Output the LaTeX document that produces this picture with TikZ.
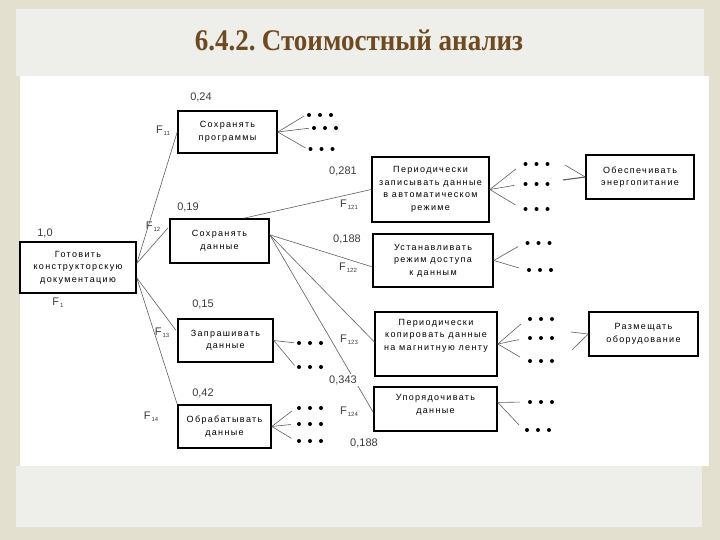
\documentclass[tikz,border=0pt]{standalone}
\usepackage{fontspec}
\setmainfont{Liberation Sans}
\newfontfamily\titlefont{Liberation Serif}
\newfontfamily\boxfont{Liberation Sans}[LetterSpace=15]
\usetikzlibrary{positioning}
\definecolor{slidebeige}{RGB}{228,224,208}
\definecolor{slidegray}{RGB}{238,238,234}
\definecolor{titlebrown}{RGB}{110,74,32}
\definecolor{wiregray}{RGB}{95,95,95}
\definecolor{labelgray}{RGB}{60,60,60}
\newcommand{\Fsub}[1]{F\raisebox{-2pt}{\fontsize{6}{6}\selectfont\,#1}}

\begin{document}
\begin{tikzpicture}[
        x=1pt, y=-1pt,
        func/.style={rectangle, draw=black, line width=1.6pt, fill=white, align=center,
                     font=\boxfont\fontsize{9}{12.5}\selectfont, inner sep=1pt},
        weight/.style={font=\fontsize{11}{11}\selectfont, text=labelgray, inner sep=1pt},
        fname/.style={font=\fontsize{11}{11}\selectfont, text=labelgray, inner sep=1pt},
        dotrow/.style={minimum width=28pt, minimum height=4.4pt, inner sep=0pt,
                       path picture={\foreach \k in {-1,0,1}
                           \fill (path picture bounding box.center) ++(\k*11pt,0pt) circle (2pt);}},
        wire/.style={draw=wiregray, line width=0.6pt},
    ]
    \useasboundingbox (0,0) rectangle (720,540);

    % ---- Slide background ----
    \fill[slidebeige] (0,0) rectangle (720,540);
    \fill[slidegray] (16,9) rectangle (704,76);
    \fill[white] (20,76) rectangle (709,466);
    \fill[slidegray] (16,466) rectangle (702,527);
    \node[font=\titlefont\bfseries\fontsize{30}{30}\selectfont, text=titlebrown, xscale=0.9] (TITLE)
        at (359,40) {6.4.2.\hspace{-3pt} Стоимостный анализ};

    % ---- Root function ----
    \node[func, minimum width=116pt, minimum height=51pt] (R) at (78,267.5)
        {Готовить\\конструкторскую\\документацию};

    % ---- First level ----
    \node[func, minimum width=99pt, minimum height=42pt] (A1) at (227.5,132) {Сохранять\\программы};
    \node[func, minimum width=99pt, minimum height=44pt] (A2) at (219.5,241) {Сохранять\\данные};
    \node[func, minimum width=95pt, minimum height=43pt] (A3) at (225.5,340.5) {Запрашивать\\данные};
    \node[func, minimum width=93pt, minimum height=43pt] (A4) at (224.5,426.5) {Обрабатывать\\данные};

    % ---- Second level ----
    \node[func, minimum width=117pt, minimum height=65pt] (B1) at (430.5,189.5)
        {Периодически\\записывать данные\\в автоматическом\\режиме};
    \node[func, minimum width=120pt, minimum height=53pt] (B2) at (433,260.5)
        {Устанавливать\\режим доступа\\к данным};
    \node[func, minimum width=122pt, minimum height=64pt] (B3) at (436,344)
        {Периодически\\копировать данные\\на магнитную ленту\\[6pt]};
    \node[func, minimum width=123pt, minimum height=44pt] (B4) at (435.5,409) {Упорядочивать\\данные\\[-2pt]};

    % ---- Third level ----
    \node[func, minimum width=108pt, minimum height=44pt] (C1) at (640,177) {Обеспечивать\\энергопитание};
    \node[func, minimum width=109pt, minimum height=44pt] (C2) at (643.5,334) {Размещать\\оборудование};

    % ---- Weights and function names ----
    \node[weight] (w1) at (45,233) {1,0};
    \node[fname] (f1) at (58,303) {\Fsub{1}};
    \node[weight] (w11) at (201,97) {0,24};
    \node[fname] (f11) at (163,131) {\Fsub{11}};
    \node[weight] (w12) at (188,207) {0,19};
    \node[fname] (f12) at (153,227) {\Fsub{12}};
    \node[weight] (w13) at (203,304) {0,15};
    \node[fname] (f13) at (162,333) {\Fsub{13}};
    \node[weight] (w14) at (203,393) {0,42};
    \node[fname] (f14) at (151,417) {\Fsub{14}};
    \node[weight] (w121) at (343,171) {0,281};
    \node[fname] (f121) at (349,205) {\Fsub{121}};
    \node[weight] (w122) at (347,239) {0,188};
    \node[fname] (f122) at (348,268) {\Fsub{122}};
    \node[fname] (f123) at (349,340) {\Fsub{123}};
    \node[fname] (f124) at (349,412) {\Fsub{124}};
    \node[weight] (w124) at (364,443) {0,188};

    % ---- Dot groups ----
    \node[dotrow] (d11) at (320,115) {};
    \node[dotrow] (d12) at (325,128) {};
    \node[dotrow] (d13) at (321.5,149) {};
    \node[dotrow] (d31) at (310,343) {};
    \node[dotrow] (d32) at (310,367) {};
    \node[dotrow] (d41) at (310,408) {};
    \node[dotrow] (d42) at (310,424) {};
    \node[dotrow] (d43) at (310,441) {};
    \node[dotrow] (e11) at (536.5,164) {};
    \node[dotrow] (e12) at (536.5,184) {};
    \node[dotrow] (e13) at (536.5,209) {};
    \node[dotrow] (e21) at (538.5,243) {};
    \node[dotrow] (e22) at (540,270) {};
    \node[dotrow] (e31) at (541,319) {};
    \node[dotrow] (e32) at (541,338) {};
    \node[dotrow] (e33) at (541,361) {};
    \node[dotrow] (e41) at (541,402) {};
    \node[dotrow] (e42) at (538,430) {};

    % ---- Root to first level ----
    \draw[wire] (R.4) -- (A1.west);
    \draw[wire, shorten >=2pt] (R.4) -- (A2.164);
    \draw[wire, shorten >=2pt] (R.-10) -- (A3.170);
    \draw[wire] (R.-10) -- (A4.north west);

    % ---- Second function to second level ----
    \draw[wire] (A2.43) -- (B1.west);
    \draw[wire] (A2.7) -- (B2.186);
    \draw[wire] (A2.7) -- (B3.178);
    \draw[wire] (A2.7) -- (B4.183);
    \node[weight, fill=white] (w123) at (343,380) {0,343};

    % ---- Fans to dot groups ----
    \foreach \d in {d11,d12,d13} {
        \draw[wire, shorten >=2pt] (A1.east) -- (\d.west);
    }
    \foreach \d in {d31,d32} {
        \draw[wire, shorten >=2pt] (A3.east) -- (\d.west);
    }
    \foreach \d in {d41,d42,d43} {
        \draw[wire, shorten >=5pt] (A4.east) -- (\d.west);
    }
    \foreach \d in {e11,e12,e13} {
        \draw[wire, shorten >=8pt] (B1.east) -- (\d.west);
    }
    \foreach \d in {e21,e22} {
        \draw[wire, shorten >=7pt] (B2.east) -- (\d.west);
    }
    \foreach \d in {e31,e32,e33} {
        \draw[wire, shorten >=8pt] (B3.east) -- (\d.west);
    }
    \foreach \d in {e41,e42} {
        \draw[wire, shorten >=7pt] (B4.6) -- (\d.west);
    }

    % ---- Inputs of third level ----
    \coordinate (c11) at (565,165);
    \coordinate (c12) at (563,180);
    \coordinate (c21) at (571,332);
    \coordinate (c22) at (572,350);
    \draw[wire] (c11) -- (C1.west);
    \draw[wire, line width=1.1pt] (c12) -- (C1.west);
    \draw[wire] (c21) -- (C2.west);
    \draw[wire] (c22) -- (C2.west);

\end{tikzpicture}
\end{document}
